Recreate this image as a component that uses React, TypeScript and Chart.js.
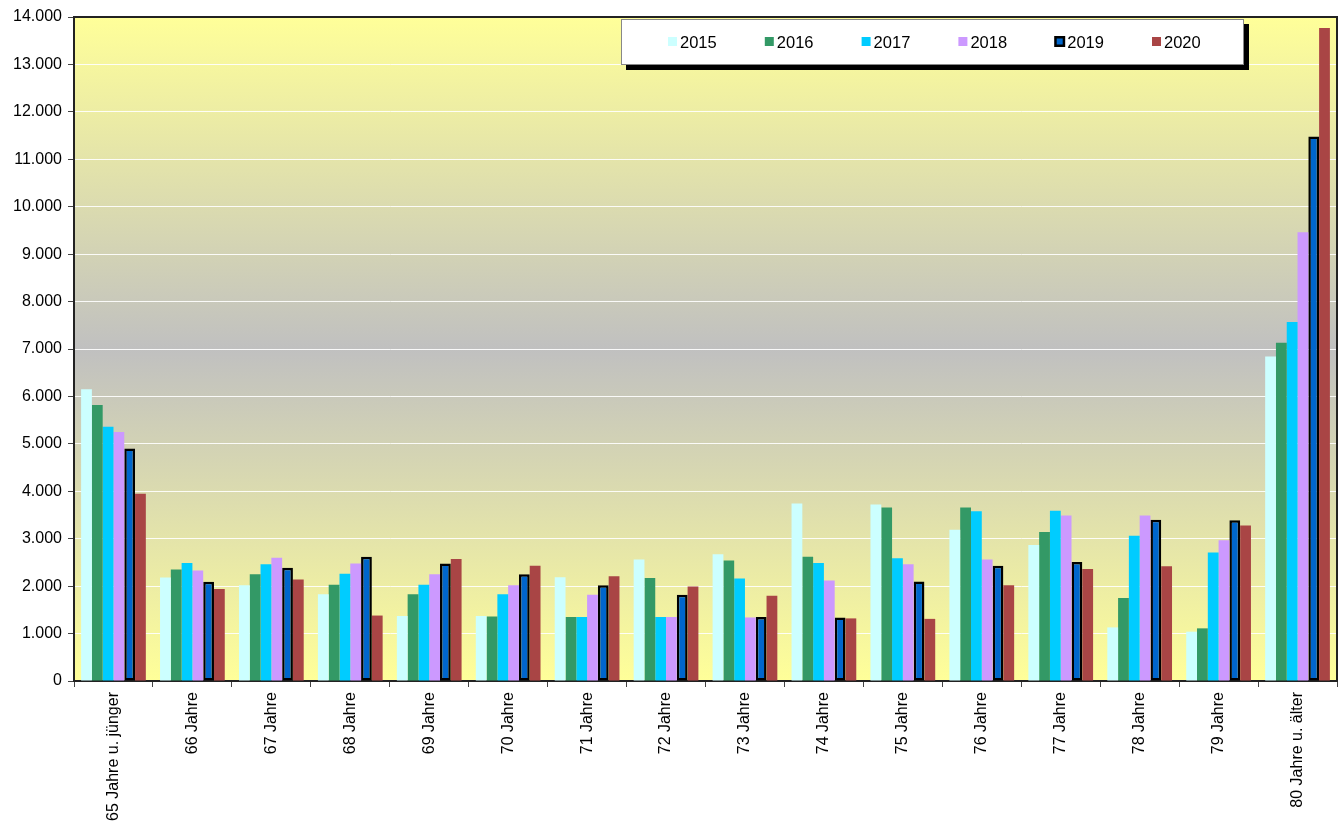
import React, { useEffect, useRef } from "react";
import { Chart, registerables } from "chart.js";

Chart.register(...registerables);

const categories = [
  "65 Jahre u. jünger", "66 Jahre", "67 Jahre", "68 Jahre", "69 Jahre", "70 Jahre",
  "71 Jahre", "72 Jahre", "73 Jahre", "74 Jahre", "75 Jahre", "76 Jahre",
  "77 Jahre", "78 Jahre", "79 Jahre", "80 Jahre u. älter",
];
const seriesLabels = ["2015", "2016", "2017", "2018", "2019", "2020"];
const values2015 = [6150, 2180, 2020, 1830, 1370, 1370, 2190, 2560, 2670, 3740, 3720, 3190, 2870, 1130, 1040, 6840];
const values2016 = [5820, 2350, 2250, 2030, 1830, 1360, 1350, 2170, 2540, 2620, 3660, 3660, 3140, 1750, 1110, 7130];
const values2017 = [5360, 2490, 2460, 2260, 2030, 1830, 1350, 1350, 2160, 2490, 2590, 3580, 3590, 3060, 2710, 7570];
const values2018 = [5250, 2330, 2600, 2480, 2250, 2020, 1820, 1350, 1340, 2120, 2460, 2560, 3490, 3490, 2970, 9460];
const values2019 = [4900, 2090, 2390, 2620, 2480, 2250, 2020, 1820, 1350, 1340, 2100, 2430, 2510, 3400, 3390, 11480];
const values2020 = [3950, 1940, 2140, 1380, 2570, 2430, 2210, 1990, 1800, 1320, 1310, 2020, 2360, 2420, 3280, 13770];
const yTicks = { min: 0, max: 14000, step: 1000 };

const colors = ["#CCFFFF", "#339966", "#00CCFF", "#CC99FF", "#0066CC", "#A94545"];
const FONT = "'Liberation Sans', Arial, sans-serif";

function fmt(v: number) {
  return String(v).replace(/\B(?=(\d{3})+(?!\d))/g, ".");
}

const bgPlugin = {
  id: "bgPlugin",
  beforeDraw(chart: any) {
    const { ctx, chartArea: a } = chart;
    const g = ctx.createLinearGradient(0, a.top, 0, a.bottom);
    g.addColorStop(0, "#FFFF99");
    g.addColorStop(0.5, "#C0C0C0");
    g.addColorStop(1, "#FFFF99");
    ctx.save();
    ctx.fillStyle = g;
    ctx.fillRect(a.left, a.top, a.right - a.left, a.bottom - a.top);
    ctx.restore();
  },
  afterDraw(chart: any) {
    const { ctx, chartArea: a } = chart;
    ctx.save();
    ctx.strokeStyle = "#222";
    ctx.lineWidth = 2;
    ctx.beginPath();
    ctx.moveTo(a.left, a.top);
    ctx.lineTo(a.right, a.top);
    ctx.lineTo(a.right, a.bottom);
    ctx.stroke();

    // legend
    const bx = 621, by = 19, bw = 623, bh = 46;
    ctx.fillStyle = "#000";
    ctx.fillRect(bx + 5, by + 5, bw, bh);
    ctx.fillStyle = "#fff";
    ctx.fillRect(bx, by, bw, bh);
    ctx.strokeStyle = "#888";
    ctx.lineWidth = 1;
    ctx.strokeRect(bx + 0.5, by + 0.5, bw - 1, bh - 1);
    ctx.font = `16.5px ${FONT}`;
    ctx.textBaseline = "middle";
    ctx.textAlign = "left";
    const cy = by + bh / 2;
    chart.data.datasets.forEach((ds: any, i: number) => {
      const mx = 668 + i * 96.8;
      if (i === 4) {
        ctx.fillStyle = "#000";
        ctx.fillRect(mx - 1, cy - 6, 11, 11);
        ctx.fillStyle = ds.backgroundColor;
        ctx.fillRect(mx + 1.5, cy - 3.5, 6, 6);
      } else {
        ctx.fillStyle = ds.backgroundColor;
        ctx.fillRect(mx, cy - 5, 9, 9);
      }
      ctx.fillStyle = "#000";
      ctx.fillText(ds.label, mx + 12, cy + 1);
    });
    ctx.restore();
  },
};

export default function App() {
  const ref = useRef<HTMLCanvasElement | null>(null);
  useEffect(() => {
    document.body.style.margin = "0";
    const all = [values2015, values2016, values2017, values2018, values2019, values2020];
    const chart = new Chart(ref.current as HTMLCanvasElement, {
      type: "bar",
      data: {
        labels: categories,
        datasets: all.map((d, i) => ({
          label: seriesLabels[i],
          data: d,
          backgroundColor: colors[i],
          borderColor: i === 4 ? "#000" : colors[i],
          borderWidth: i === 4 ? 2.5 : 0,
          borderSkipped: false,
          categoryPercentage: 0.82,
          barPercentage: 1.0,
        })),
      },
      options: {
        animation: false,
        responsive: false,
        devicePixelRatio: 1,
        layout: { padding: { left: 0, top: 17, right: 3, bottom: 0 } },
        plugins: { legend: { display: false }, tooltip: { enabled: false } },
        scales: {
          x: {
            grid: { drawOnChartArea: false, offset: true, tickLength: 6, color: "#444" },
            border: { color: "#222", width: 2 },
            ticks: {
              color: "#000",
              font: { family: FONT, size: 16 },
              maxRotation: 90,
              minRotation: 90,
              autoSkip: false,
              padding: 5,
            },
            afterFit(scale: any) {
              scale.height = 144;
            },
          },
          y: {
            min: yTicks.min,
            max: yTicks.max,
            grid: { color: "rgba(255,255,255,0.9)", lineWidth: 1, tickLength: 6, tickColor: "#444" },
            border: { color: "#222", width: 2 },
            ticks: {
              stepSize: yTicks.step,
              color: "#000",
              font: { family: FONT, size: 16 },
              padding: 6,
              callback: (v: any) => fmt(Number(v)),
            },
            afterFit(scale: any) {
              scale.width = 74;
            },
          },
        },
      },
      plugins: [bgPlugin],
    } as any);
    return () => chart.destroy();
  }, []);
  return <canvas ref={ref} width={1340} height={825} style={{ display: "block" }} />;
}
